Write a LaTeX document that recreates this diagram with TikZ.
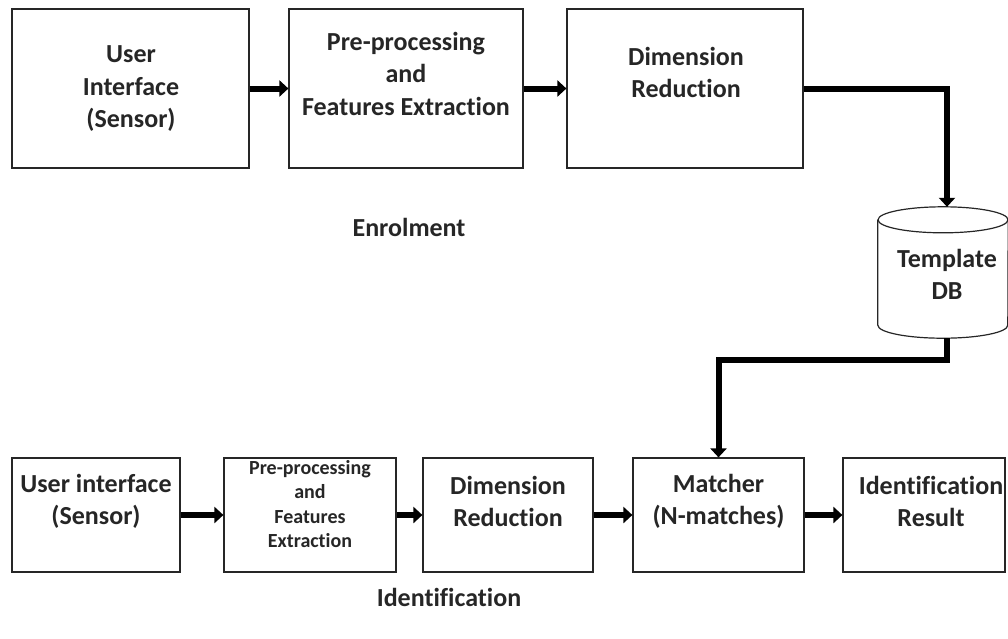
\documentclass[tikz,border=0pt]{standalone}
\usepackage{fontspec}
\setmainfont{Carlito}[Ligatures=NoCommon]
\usetikzlibrary{arrows.meta}
\begin{document}
\begin{tikzpicture}[x=1pt,y=-1pt,
  box/.style={draw=black!85, line width=1.2pt, inner sep=0pt, fill=white},
  lbl/.style={align=center, font=\bfseries\fontsize{26}{32.5}\selectfont, text=black!85, inner sep=0pt},
  small/.style={align=center, font=\bfseries\fontsize{20}{24.3}\selectfont, text=black!85, inner sep=0pt},
  flow/.style={draw=black, line width=6pt, -{Triangle[length=9pt,width=16pt]}, line join=miter},
]
\useasboundingbox (0,0) rectangle (1008,638);

% Enrolment chain
\node[box, minimum width=237pt, minimum height=159pt] (e1) at (130.5,88.5) {};
\node[box, minimum width=234pt, minimum height=159pt] (e2) at (406,88.5) {};
\node[box, minimum width=236pt, minimum height=159pt] (e3) at (685,88.5) {};
\node[lbl] (e1t) at (131,89) {User\\Interface\\(Sensor)};
\node[lbl] (e2t) at (406,73.5) {Pre-processing\\and\\Features Extraction};
\node[lbl] (e3t) at (686,72.5) {Dimension\\Reduction};
\node[lbl] (enr) at (409,227) {Enrolment};

% Template database (cylinder drawn around a plain node)
\node[inner sep=0pt, minimum width=130pt, minimum height=131pt] (db) at (943,272.5) {};
\draw[box] ([yshift=-13pt]db.north west) -- ([yshift=13pt]db.south west)
  arc[start angle=180, end angle=360, x radius=65pt, y radius=13pt]
  -- ([yshift=-13pt]db.north east);
\draw[box] ([yshift=-13pt]db.north) ellipse[x radius=65pt, y radius=13pt];
\node[lbl] (dbt) at (947,274.5) {Template\\DB};

% Identification chain
\node[box, minimum width=168pt, minimum height=114pt] (i1) at (96,515) {};
\node[box, minimum width=172pt, minimum height=114pt] (i2) at (310,515) {};
\node[box, minimum width=170pt, minimum height=114pt] (i3) at (508,515) {};
\node[box, minimum width=171pt, minimum height=114pt] (i4) at (718.5,515) {};
\node[box, minimum width=162pt, minimum height=114pt] (i5) at (924,515) {};
\node[lbl] (i1t) at (96,501.5) {User interface\\(Sensor)};
\node[small] (i2t) at (310,504) {Pre-processing\\and\\Features\\Extraction};
\node[lbl] (i3t) at (508,501.5) {Dimension\\Reduction};
\node[lbl] (i4t) at (718.5,501.5) {Matcher\\(N-matches)};
\node[lbl] (i5t) at (931,501.5) {Identification\\Result};
\node[lbl] (idn) at (449,597) {Identification};

% Connectors
\draw[flow] (e1) -- (e2);
\draw[flow] (e2) -- (e3);
\draw[flow] (e3.east) -| ([xshift=4pt]db.north);
\draw[flow] ([xshift=4pt]db.south) -- ++(0,22) -| (i4.north);
\draw[flow] (i1) -- (i2);
\draw[flow] (i2) -- (i3);
\draw[flow] (i3) -- (i4);
\draw[flow] (i4) -- (i5);
\end{tikzpicture}
\end{document}
